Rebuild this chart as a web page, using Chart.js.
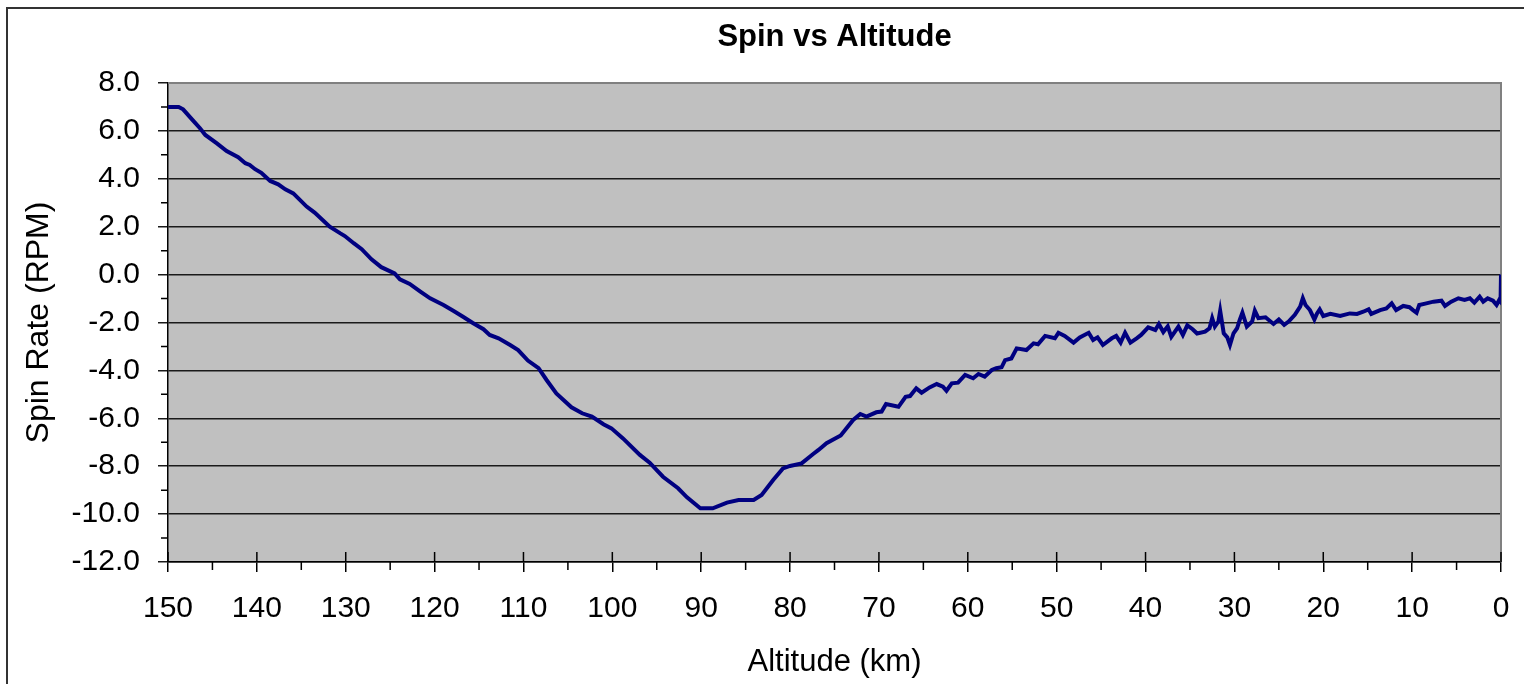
<!DOCTYPE html>
<html>
<head>
<meta charset="utf-8">
<title>Spin vs Altitude</title>
<script src="https://cdn.jsdelivr.net/npm/chart.js@4/dist/chart.umd.min.js"></script>
<style>
  html, body { margin: 0; padding: 0; background: #fff; }
  canvas { display: block; }
</style>
</head>
<body>
<canvas id="spin-chart" width="1524" height="684"></canvas>
<script>
// altitude in km (descending)
const altitude = [
  150, 148.8, 148.3, 147.3, 146.4, 145.8, 144.5, 143.4, 142.1, 141.3,
  140.8, 140.2, 139.5, 138.5, 137.6, 136.8, 135.9, 134.4, 133.5, 131.8,
  130.6, 130.1, 129.1, 128.2, 127.1, 126.0, 124.5, 123.9, 122.8, 121.6,
  120.5, 119.0, 117.9, 116.8, 115.7, 114.5, 113.8, 112.8, 111.5, 110.6,
  109.5, 108.3, 107.4, 106.3, 104.6, 103.4, 102.3, 101.0, 100.1, 98.8,
  96.9, 95.8, 94.3, 92.6, 91.6, 90.1, 88.7, 87.1, 85.8, 84.1,
  83.2, 81.9, 80.8, 80.0, 78.7, 77.4, 76.8, 75.9, 74.3, 72.9,
  72.1, 71.4, 70.3, 69.7, 69.2, 67.8, 67.0, 66.5, 65.8, 65.2,
  64.3, 63.5, 62.8, 62.4, 61.8, 61.1, 60.3, 59.4, 58.8, 58.1,
  57.3, 56.8, 56.2, 55.8, 55.1, 54.5, 53.4, 52.6, 52.1, 51.3,
  50.2, 49.8, 49.1, 48.1, 47.4, 46.4, 45.9, 45.4, 44.8, 43.8,
  43.3, 42.8, 42.3, 41.7, 41.0, 40.5, 39.7, 38.9, 38.5, 38.0,
  37.5, 37.1, 36.3, 35.8, 35.3, 34.7, 34.2, 33.3, 32.8, 32.5,
  32.2, 31.8, 31.6, 31.2, 30.8, 30.5, 30.1, 29.7, 29.4, 29.1,
  28.6, 28.0, 27.7, 27.3, 26.5, 25.6, 25.0, 24.4, 23.9, 23.2,
  22.6, 22.3, 22.0, 21.5, 21.0, 20.7, 20.4, 20.0, 19.2, 18.1,
  17.0, 16.2, 15.5, 14.9, 14.6, 13.6, 12.9, 12.3, 11.8, 11.0,
  10.3, 9.9, 9.5, 9.2, 8.4, 7.6, 6.7, 6.3, 5.6, 4.8,
  4.1, 3.5, 3.0, 2.4, 2.0, 1.5, 0.9, 0.5, 0.2, 0.05,
  0
];

// spin rate in RPM, one per altitude
const spinRate = [
  7.0, 7.0, 6.9, 6.48, 6.11, 5.83, 5.48, 5.16, 4.9, 4.65,
  4.58, 4.4, 4.25, 3.91, 3.77, 3.56, 3.39, 2.84, 2.59, 2.0,
  1.72, 1.61, 1.31, 1.06, 0.64, 0.31, 0.05, -0.2, -0.39, -0.71,
  -0.99, -1.27, -1.51, -1.76, -2.02, -2.28, -2.52, -2.66, -2.94, -3.15,
  -3.59, -3.91, -4.4, -4.96, -5.54, -5.79, -5.93, -6.25, -6.42, -6.84,
  -7.53, -7.85, -8.44, -8.92, -9.3, -9.76, -9.76, -9.52, -9.41, -9.41,
  -9.2, -8.58, -8.09, -7.99, -7.88, -7.49, -7.32, -7.04, -6.72, -6.07,
  -5.82, -5.93, -5.75, -5.72, -5.4, -5.52, -5.1, -5.07, -4.75, -4.93,
  -4.71, -4.57, -4.68, -4.85, -4.54, -4.51, -4.19, -4.33, -4.15, -4.26,
  -3.98, -3.91, -3.87, -3.57, -3.5, -3.08, -3.15, -2.87, -2.91, -2.56,
  -2.66, -2.43, -2.56, -2.84, -2.62, -2.43, -2.73, -2.62, -2.94, -2.66,
  -2.56, -2.84, -2.43, -2.84, -2.66, -2.52, -2.2, -2.31, -2.06, -2.4,
  -2.16, -2.6, -2.17, -2.52, -2.12, -2.28, -2.46, -2.38, -2.24, -1.82,
  -2.17, -1.96, -1.51, -2.45, -2.62, -2.94, -2.45, -2.24, -1.89, -1.59,
  -2.17, -1.96, -1.51, -1.82, -1.78, -2.06, -1.87, -2.1, -1.96, -1.68,
  -1.34, -0.99, -1.27, -1.48, -1.87, -1.62, -1.45, -1.73, -1.64, -1.73,
  -1.62, -1.64, -1.55, -1.45, -1.64, -1.48, -1.41, -1.2, -1.48, -1.31,
  -1.36, -1.48, -1.59, -1.27, -1.2, -1.13, -1.09, -1.31, -1.13, -0.99,
  -1.06, -0.99, -1.17, -0.92, -1.13, -0.99, -1.09, -1.27, -1.06, -1.13,
  0.0
];

// axis ranges and minor tick positions
const xRange = [0, 150];
const yRange = [-12, 8];
const xMinorTicks = [145, 135, 125, 115, 105, 95, 85, 75, 65, 55, 45, 35, 25, 15, 5];
const yMinorTicks = [7, 5, 3, 1, -1, -3, -5, -7, -9, -11];

const FONT = "'Liberation Sans', Arial, sans-serif";
const chartTitle = "Spin vs Altitude";

// excel style frame: outer border, grey plot area, minor ticks, title
const excelFrame = {
  id: "excelFrame",
  beforeDraw(chart) {
    const { ctx, chartArea } = chart;
    ctx.save();
    ctx.fillStyle = "#ffffff";
    ctx.fillRect(0, 0, chart.width, chart.height);
    ctx.strokeStyle = "#333333";
    ctx.lineWidth = 2;
    ctx.strokeRect(7, 8, chart.width + 20, chart.height + 20);
    ctx.fillStyle = "#c0c0c0";
    ctx.fillRect(
      chartArea.left,
      chartArea.top,
      chartArea.right - chartArea.left,
      chartArea.bottom - chartArea.top
    );
    // title is centred over the plot area, not the canvas
    ctx.fillStyle = "#000";
    ctx.font = "bold 31px " + FONT;
    ctx.textAlign = "center";
    ctx.textBaseline = "middle";
    ctx.fillText(chartTitle, (chartArea.left + chartArea.right) / 2, 37);
    ctx.restore();
  },
  beforeDatasetsDraw(chart) {
    const { ctx, chartArea } = chart;
    const xScale = chart.scales.x;
    const yScale = chart.scales.y;
    ctx.save();
    // top and right plot edge
    ctx.strokeStyle = "#808080";
    ctx.lineWidth = 2;
    ctx.beginPath();
    ctx.moveTo(chartArea.left, chartArea.top);
    ctx.lineTo(chartArea.right, chartArea.top);
    ctx.lineTo(chartArea.right, chartArea.bottom);
    ctx.stroke();

    ctx.strokeStyle = "#000000";
    ctx.lineWidth = 1.5;
    ctx.beginPath();
    // major x ticks cross the axis
    xScale.ticks.forEach((t) => {
      const px = xScale.getPixelForValue(t.value);
      ctx.moveTo(px, chartArea.bottom);
      ctx.lineTo(px, chartArea.bottom - 10);
    });
    xMinorTicks.forEach((v) => {
      const px = xScale.getPixelForValue(v);
      ctx.moveTo(px, chartArea.bottom);
      ctx.lineTo(px, chartArea.bottom + 8);
    });
    yMinorTicks.forEach((v) => {
      const py = yScale.getPixelForValue(v);
      ctx.moveTo(chartArea.left, py);
      ctx.lineTo(chartArea.left - 7, py);
    });
    ctx.stroke();
    ctx.restore();
  },
};

new Chart(document.getElementById("spin-chart"), {
  type: "line",
  plugins: [excelFrame],
  data: {
    datasets: [
      {
        label: "Spin Rate",
        data: altitude.map((alt, i) => ({ x: alt, y: spinRate[i] })),
        borderColor: "#000080",
        borderWidth: 4,
        pointRadius: 0,
        tension: 0,
        fill: false,
      },
    ],
  },
  options: {
    responsive: false,
    animation: false,
    layout: {
      padding: { left: 8, right: 23, top: 83, bottom: 0 },
    },
    plugins: {
      legend: { display: false },
      tooltip: { enabled: false },
      title: { display: false },
    },
    scales: {
      x: {
        type: "linear",
        reverse: true,
        min: xRange[0],
        max: xRange[1],
        afterFit: (scale) => {
          scale.height = 122;
          // reversed axis: "0" sits at the right edge, it needs little room
          scale.paddingLeft = 0;
          scale.paddingRight = 0;
        },
        border: { color: "#000", width: 1.5 },
        grid: {
          drawOnChartArea: false,
          drawTicks: true,
          tickLength: 10,
          color: "#000",
          lineWidth: 1.5,
        },
        ticks: {
          stepSize: 10,
          autoSkip: false,
          maxRotation: 0,
          padding: 19,
          color: "#000",
          font: { family: FONT, size: 30 },
          callback: (v) => String(v),
        },
        title: {
          display: true,
          text: "Altitude (km)",
          color: "#000",
          font: { family: FONT, size: 31 },
          padding: { top: 0, bottom: 3 },
        },
      },
      y: {
        min: yRange[0],
        max: yRange[1],
        afterFit: (scale) => {
          scale.width = 160;
        },
        border: { color: "#000", width: 1.5 },
        grid: {
          color: "#1a1a1a",
          lineWidth: 1.5,
          drawTicks: true,
          tickLength: 10,
        },
        ticks: {
          stepSize: 2,
          padding: 18,
          color: "#000",
          font: { family: FONT, size: 30 },
          callback: (v) => v.toFixed(1),
        },
        title: {
          display: true,
          text: "Spin Rate (RPM)",
          color: "#000",
          font: { family: FONT, size: 32 },
          padding: { top: 12, bottom: 0 },
        },
      },
    },
  },
});
</script>
</body>
</html>
